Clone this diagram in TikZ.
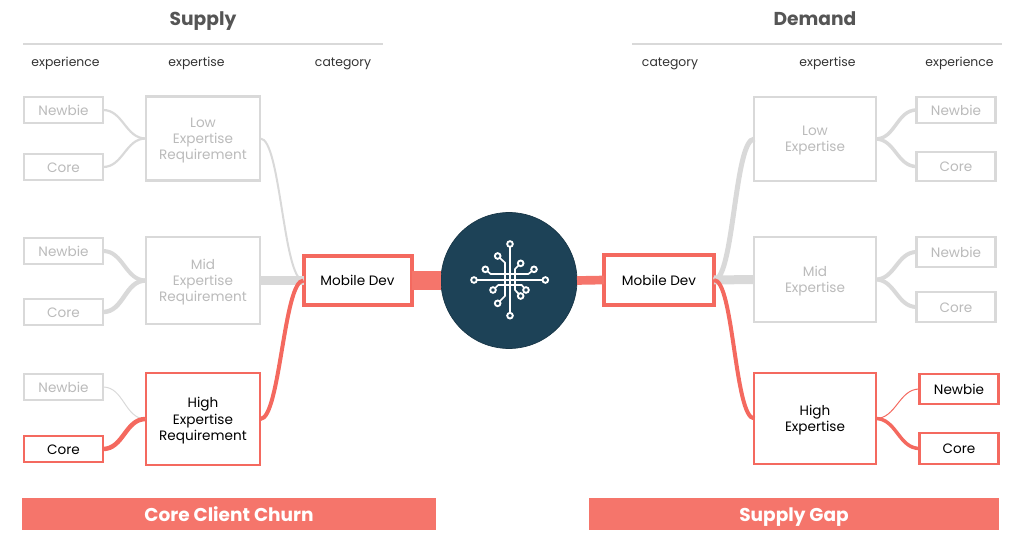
\documentclass[tikz,border=0pt]{standalone}
\usepackage{fontspec}
\setmainfont{Poppins}
\definecolor{gr}{HTML}{D9D9D9}
\definecolor{grt}{HTML}{BBBBBB}
\definecolor{rd}{HTML}{F5756B}
\definecolor{rdb}{HTML}{F4695F}
\definecolor{navy}{HTML}{1D4257}
\definecolor{ttl}{HTML}{555555}
\tikzset{
  x=.75pt,y=-.75pt,
  every node/.style={outer sep=0pt,inner sep=0pt,align=center,font=\fontsize{10.2}{12.1}\selectfont},
  gbox/.style={draw=gr,line width=1.6pt,fill=white,text=grt},
  rbox/.style={draw=rdb,line width=1.6pt,fill=white,text=black},
  mbox/.style={draw=rdb,line width=3pt,fill=white,text=black,oneline},
  oneline/.style={text height=7.8pt,text depth=0pt},
  twoline/.style={text height=22pt,text depth=2.7pt},
  threeline/.style={text height=34.4pt,text depth=2.7pt},
  small/.style={minimum width=#1*.75pt,minimum height=20pt,oneline},
  big/.style={minimum width=86pt},
  banner/.style={fill=rd,text=white,font=\fontsize{13.9}{15}\selectfont\bfseries,text height=11.4pt,text depth=0pt},
  head/.style={text=ttl,font=\fontsize{14}{16}\selectfont\bfseries,text height=10pt,text depth=3pt},
  col/.style={text=black!80,font=\fontsize{9.3}{11}\selectfont,text height=7pt,text depth=2.3pt},
  gl/.style={draw=gr,line width=#1*.75pt},
  rl/.style={draw=rdb,line width=#1*.75pt},
  sc/.style={out=0,in=180},
  tall/.style={out=0,in=180,looseness=.35},
  scr/.style={out=180,in=0},
  tallr/.style={out=180,in=0,looseness=.35},
  wire/.style={draw=white,line width=1.25pt,line cap=round,line join=round},
  pad/.style={draw=white,line width=1.4pt,fill=navy},
}
\begin{document}
\begin{tikzpicture}
\useasboundingbox (0,0) rectangle (1024,545);
% headings
\node[head] (hs) at (203,21.3) {Supply};
\node[head] (hd) at (815,21.3) {Demand};
\draw[draw=gr,line width=.9pt] (23,44) -- (383,44);
\draw[draw=gr,line width=.9pt] (632,44) -- (1002,44);
\node[col] (c1) at (65.5,63) {experience};
\node[col] (c2) at (196.5,63) {expertise};
\node[col] (c3) at (343,63) {category};
\node[col] (c4) at (670,63) {category};
\node[col] (c5) at (827.5,63) {expertise};
\node[col] (c6) at (959.5,63) {experience};
% left small boxes
\node[gbox,small=79] (ln1) at (63.5,110) {Newbie};
\node[gbox,small=79] (lc1) at (63.5,167) {Core};
\node[gbox,small=79] (ln2) at (63.5,251) {Newbie};
\node[gbox,small=79] (lc2) at (63.5,312) {Core};
\node[gbox,small=79] (ln3) at (63.5,387) {Newbie};
\node[rbox,small=79] (lc3) at (63.5,449) {Core};
% left expertise
\node[gbox,big,threeline,minimum height=63pt] (ll) at (203,138.5) {Low\\Expertise\\Requirement};
\node[gbox,big,threeline,minimum height=65pt] (lm) at (203,280.5) {Mid\\Expertise\\Requirement};
\node[rbox,big,threeline,minimum height=69pt] (lh) at (203,419) {High\\Expertise\\Requirement};
% centre
\node[mbox,minimum width=81pt,minimum height=37pt] (lmd) at (357.5,280.5) {Mobile Dev};
\node[mbox,minimum width=82.5pt,minimum height=37.5pt] (rmd) at (659,280) {Mobile Dev};
\node[circle,fill=navy,draw=navy!80!black,line width=.5pt,minimum size=102pt] (hub) at (509,280.5) {};
% right expertise
\node[gbox,big,twoline,minimum width=91pt,minimum height=63pt] (rl) at (815,139) {Low\\Expertise};
\node[gbox,big,twoline,minimum width=91pt,minimum height=63.5pt] (rm) at (815,279.5) {Mid\\Expertise};
\node[rbox,big,twoline,minimum width=91pt,minimum height=68pt] (rh) at (815,418.5) {High\\Expertise};
% right small boxes
\node[gbox,small=79] (rn1) at (956,110) {Newbie};
\node[gbox,small=79,minimum height=22pt] (rc1) at (956,166.5) {Core};
\node[gbox,small=79,minimum height=22pt] (rn2) at (956,252) {Newbie};
\node[gbox,small=79,minimum height=22pt] (rc2) at (956,307) {Core};
\node[rbox,small=79,minimum height=22pt] (rn3) at (959,389) {Newbie};
\node[rbox,small=79,minimum height=23pt] (rc3) at (959,448.5) {Core};
% banners
\node[banner,minimum width=310.5pt,minimum height=24pt] (b1) at (229,514) {Core Client Churn};
\node[banner,minimum width=307.5pt,minimum height=24pt] (b2) at (794,514) {Supply Gap};
% left connectors
\draw[gl=2.2] (ln1.east) to[sc] (ll.west);
\draw[gl=2.2] (lc1.east) to[sc] (ll.west);
\draw[gl=4] (ln2.east) to[sc] (lm.west);
\draw[gl=4.5] (lc2.east) to[sc] (lm.west);
\draw[gl=1] (ln3.east) to[sc] (lh.west);
\draw[rl=4.5] (lc3.east) to[sc] (lh.west);
\draw[gl=2] (ll.east) to[tall] (lmd.west);
\draw[gl=9] (lm.east) -- (lmd.west);
\draw[rl=4] (lh.east) to[tall] (lmd.west);
\draw[draw=rd,line width=13.5pt] (lmd.east) -- (hub.west);
% right connectors
\draw[draw=rd,line width=6.5pt] (hub.east) -- (rmd.west);
\draw[gl=5] (rl.west) to[tallr] (rmd.east);
\draw[gl=9] (rm.west) -- (rmd.east);
\draw[rl=4] (rh.west) to[tallr] (rmd.east);
\draw[gl=3.5] (rl.east) to[sc] (rn1.west);
\draw[gl=3.5] (rl.east) to[sc] (rc1.west);
\draw[gl=4] (rm.east) to[sc] (rn2.west);
\draw[gl=4] (rm.east) to[sc] (rc2.west);
\draw[rl=1] (rh.east) to[sc] (rn3.west);
\draw[rl=3.5] (rh.east) to[sc] (rc3.west);
% icon
\begin{scope}[shift={(400,200)},x=.25pt,y=-.25pt]
  \draw[wire] (330,132) -- (330,347);
  \draw[wire] (222,240) -- (436,240);
  \draw[wire] (293,168) -- (315,188) -- (315,288) -- (293,310);
  \draw[wire] (362,190) -- (345,207) -- (345,270) -- (362,288);
  \draw[wire] (256,208) -- (272,222) -- (385,222) -- (402,208);
  \draw[wire] (279,270) -- (295,255) -- (365,255) -- (378,270);
  \foreach \px/\py in {330/132,330/347,222/240,436/240,293/168,293/310,362/190,362/288,256/208,402/208,279/270,378/270}
    \draw[pad] (\px,\py) circle[radius=8.5];
\end{scope}
\end{tikzpicture}
\end{document}
